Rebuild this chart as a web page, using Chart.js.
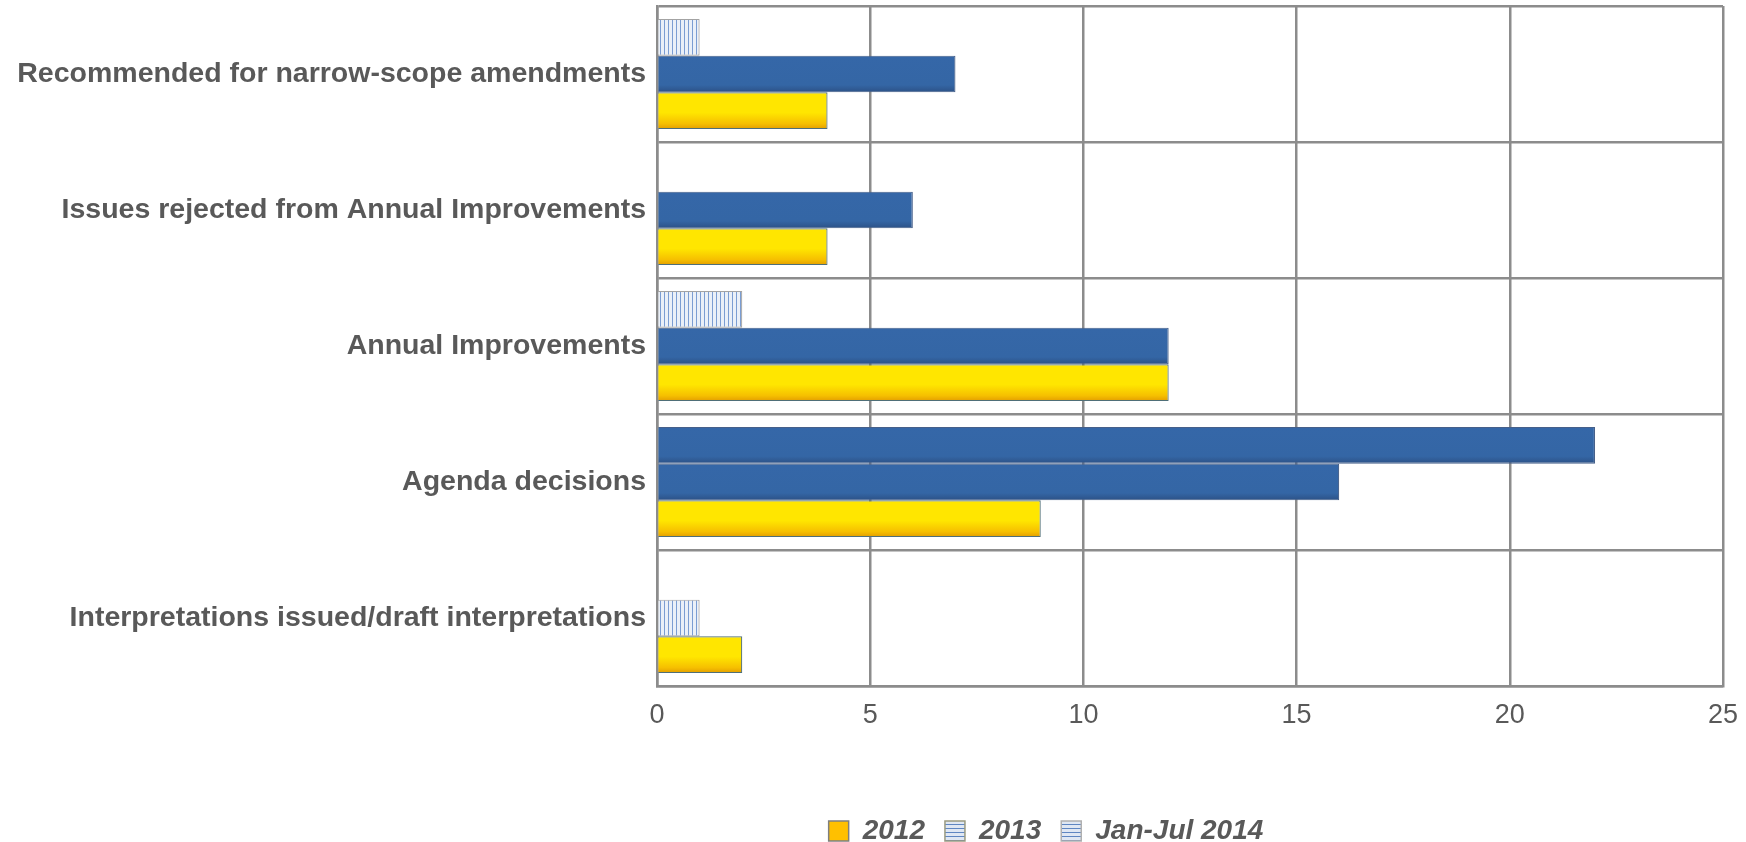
<!DOCTYPE html>
<html>
<head>
<meta charset="utf-8">
<script src="https://cdn.jsdelivr.net/npm/chart.js@4/dist/chart.umd.min.js"></script>
<style>
  body { margin: 0; background: #fff; }
</style>
</head>
<body>
<canvas id="chart" width="1746" height="842"></canvas>
<script>
const categories = [
    "Recommended for narrow-scope amendments",
    "Issues rejected from Annual Improvements",
    "Annual Improvements",
    "Agenda decisions",
    "Interpretations issued/draft interpretations"
];
const values2012 = [4, 4, 12, 9, 2];
const values2013 = [7, 6, 12, 16, 1];
const valuesJanJul2014 = [1, null, 2, 22, null];
const seriesNames = ["2012", "2013", "Jan-Jul 2014"];
const xTicks = [0, 5, 10, 15, 20, 25];

const CAT_PCT = 0.81;

// striped fills like the Excel pattern fills
function makeStripes(vertical, bg, line) {
    const c = document.createElement('canvas');
    c.width = 4; c.height = 4;
    const g = c.getContext('2d');
    g.fillStyle = bg;
    g.fillRect(0, 0, 4, 4);
    g.fillStyle = line;
    if (vertical) g.fillRect(0, 0, 1, 4);
    else g.fillRect(0, 0, 4, 1);
    return g.createPattern(c, 'repeat');
}
const ctx = document.getElementById('chart').getContext('2d');
const vStripes = makeStripes(true, '#eaf0f8', '#7b9dd2');
const hStripes = makeStripes(false, '#dfe7f3', '#5f86c2');

// vertical gradient inside one bar slot (styling only)
function barGradient(c, stops, fallback) {
    const chart = c.chart;
    const ys = chart.scales.y;
    if (!ys || c.dataIndex === undefined) return fallback;
    const band = (ys.bottom - ys.top) / categories.length;
    const size = band * CAT_PCT;
    const chunk = size / 3;
    const top = ys.getPixelForValue(c.dataIndex) - size / 2 + chunk * c.datasetIndex;
    const gr = chart.ctx.createLinearGradient(0, top, 0, top + chunk);
    stops.forEach(s => gr.addColorStop(s[0], s[1]));
    return gr;
}
const yellowStops = [[0, '#ffe600'], [0.55, '#ffe600'], [0.85, '#f6c000'], [1, '#e39d00']];
const blueStops = [[0, '#3567a8'], [0.8, '#3466a5'], [1, '#2c5186']];

function blueFill(c) { return barGradient(c, blueStops, '#3466a5'); }
function yellowFill(c) { return barGradient(c, yellowStops, '#ffe000'); }

const legendShift = {
    id: 'legendShift',
    afterLayout(chart) {
        const lg = chart.legend;
        if (!lg) return;
        const h = lg.bottom - lg.top;
        const dx = 1046 - (lg.left + lg.right) / 2;
        lg.left += dx; lg.right += dx;
        lg.top = 826 - h / 2; lg.bottom = lg.top + h;
    }
};

new Chart(ctx, {
    type: 'bar',
    data: {
        labels: categories,
        datasets: [
            {
                label: seriesNames[2],
                data: valuesJanJul2014,
                backgroundColor: c => c.dataIndex === 3 ? blueFill(c) : vStripes,
                borderColor: c => c.dataIndex === 3 ? '#46608a' : '#a3a3a3',
                borderWidth: 1.2
            },
            {
                label: seriesNames[1],
                data: values2013,
                backgroundColor: c => c.dataIndex === 4 ? vStripes : blueFill(c),
                borderColor: c => c.dataIndex === 4 ? '#a3a3a3' : '#46608a',
                borderWidth: 1.2
            },
            {
                label: seriesNames[0],
                data: values2012,
                backgroundColor: yellowFill,
                borderColor: '#4f6f78',
                borderWidth: 1.2
            }
        ]
    },
    options: {
        indexAxis: 'y',
        responsive: false,
        animation: false,
        devicePixelRatio: 1,
        datasets: { bar: { categoryPercentage: CAT_PCT, barPercentage: 1 } },
        layout: { padding: { top: 6, right: 23, left: 0, bottom: 0 } },
        scales: {
            x: {
                min: 0,
                max: 25,
                afterBuildTicks: s => { s.ticks = xTicks.map(v => ({ value: v })); },
                grid: { color: '#8c8c8c', lineWidth: 2.5, drawTicks: false },
                border: { color: '#8c8c8c', width: 2.5 },
                ticks: {
                    color: '#595959',
                    padding: 13,
                    font: { family: 'Liberation Sans, Arial, sans-serif', size: 27 }
                },
                afterFit: s => { s.height = 98; s.paddingLeft = 0; s.paddingRight = 0; }
            },
            y: {
                grid: { color: '#8c8c8c', lineWidth: 2.5, offset: true, drawTicks: false },
                border: { color: '#8c8c8c', width: 2.5 },
                ticks: {
                    color: '#595959',
                    padding: 11,
                    font: { family: 'Liberation Sans, Arial, sans-serif', size: 28.5, weight: 'bold' }
                },
                afterFit: s => { s.width = 657; s.paddingTop = 0; s.paddingBottom = 0; }
            }
        },
        plugins: {
            tooltip: { enabled: false },
            legend: {
                position: 'bottom',
                labels: {
                    boxWidth: 20,
                    boxHeight: 20,
                    padding: 20,
                    color: '#595959',
                    font: { family: 'Liberation Sans, Arial, sans-serif', size: 28, weight: 'bold', style: 'italic' },
                    generateLabels: chart => [
                        { text: seriesNames[0], fillStyle: '#ffc000', strokeStyle: '#7f7f7f', lineWidth: 1.5, datasetIndex: 2, fontColor: '#595959' },
                        { text: seriesNames[1], fillStyle: hStripes, strokeStyle: '#9a9a80', lineWidth: 1.5, datasetIndex: 1, fontColor: '#595959' },
                        { text: seriesNames[2], fillStyle: hStripes, strokeStyle: '#b0b0b0', lineWidth: 1.5, datasetIndex: 0, fontColor: '#595959' }
                    ]
                }
            }
        }
    },
    plugins: [legendShift]
});
</script>
</body>
</html>
